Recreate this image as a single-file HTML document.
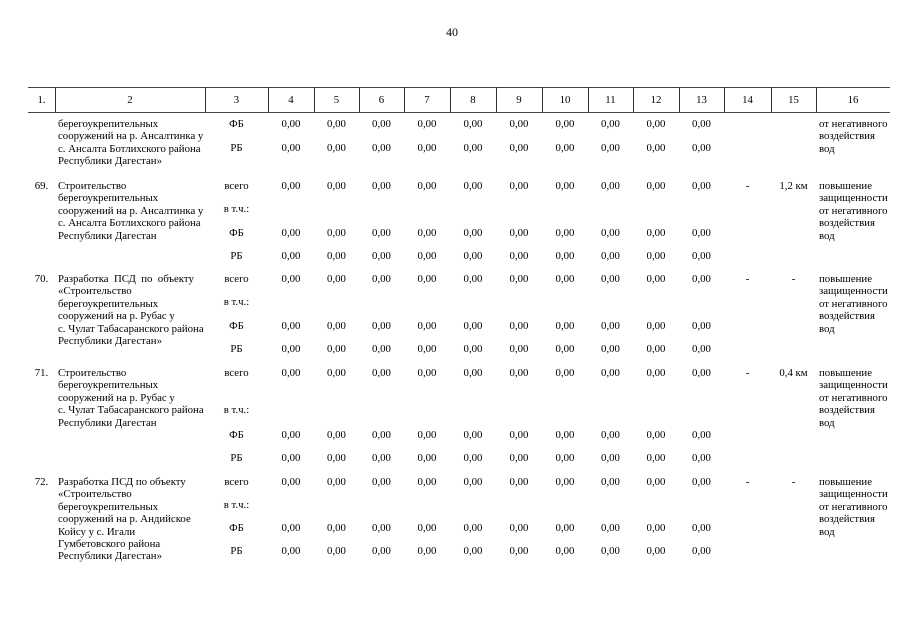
<!DOCTYPE html>
<html><head><meta charset="utf-8"><style>
body{margin:0;width:905px;height:640px;background:#fff;position:relative;overflow:hidden;font-family:"Liberation Serif","Noto Serif CJK SC",serif;font-size:10.8px;color:#000}
.r{position:absolute;left:28px;display:flex;line-height:12px}
.r span{display:block;text-align:center;flex:none}
.t{position:absolute;line-height:12.4px;white-space:nowrap}
.vl{position:absolute;top:87px;height:25px;width:1px;background:#333}
.hl{position:absolute;left:28px;width:862px;height:1px;background:#444}
</style></head><body>
<div class="t" style="left:446px;top:26px;font-size:12px">40</div>
<div class="hl" style="top:87px"></div>
<div class="hl" style="top:112px"></div>
<div class="vl" style="left:55px"></div><div class="vl" style="left:205px"></div><div class="vl" style="left:268px"></div><div class="vl" style="left:314px"></div><div class="vl" style="left:359px"></div><div class="vl" style="left:404px"></div><div class="vl" style="left:450px"></div><div class="vl" style="left:496px"></div><div class="vl" style="left:542px"></div><div class="vl" style="left:588px"></div><div class="vl" style="left:633px"></div><div class="vl" style="left:679px"></div><div class="vl" style="left:724px"></div><div class="vl" style="left:771px"></div><div class="vl" style="left:816px"></div>

<div class="r" style="top:94px"><span style="width:27px">1.</span><span style="width:150px">2</span><span style="width:63px">3</span><span style="width:46px">4</span><span style="width:45px">5</span><span style="width:45px">6</span><span style="width:46px">7</span><span style="width:46px">8</span><span style="width:46px">9</span><span style="width:46px">10</span><span style="width:45px">11</span><span style="width:46px">12</span><span style="width:45px">13</span><span style="width:47px">14</span><span style="width:45px">15</span><span style="width:74px">16</span></div>

<div class="r" style="top:118px"><span style="width:177px"></span><span style="width:63px">ФБ</span><span style="width:46px">0,00</span><span style="width:45px">0,00</span><span style="width:45px">0,00</span><span style="width:46px">0,00</span><span style="width:46px">0,00</span><span style="width:46px">0,00</span><span style="width:46px">0,00</span><span style="width:45px">0,00</span><span style="width:46px">0,00</span><span style="width:45px">0,00</span></div>
<div class="r" style="top:142px"><span style="width:177px"></span><span style="width:63px">РБ</span><span style="width:46px">0,00</span><span style="width:45px">0,00</span><span style="width:45px">0,00</span><span style="width:46px">0,00</span><span style="width:46px">0,00</span><span style="width:46px">0,00</span><span style="width:46px">0,00</span><span style="width:45px">0,00</span><span style="width:46px">0,00</span><span style="width:45px">0,00</span></div>
<div class="t" style="left:58px;top:118px">берегоукрепительных<br>сооружений на р. Ансалтинка у<br>с. Ансалта Ботлихского района<br>Республики Дагестан»</div>
<div class="t" style="left:819px;top:118px">от негативного<br>воздействия<br>вод</div>

<div class="r" style="top:180px"><span style="width:27px">69.</span><span style="width:150px"></span><span style="width:63px">всего</span><span style="width:46px">0,00</span><span style="width:45px">0,00</span><span style="width:45px">0,00</span><span style="width:46px">0,00</span><span style="width:46px">0,00</span><span style="width:46px">0,00</span><span style="width:46px">0,00</span><span style="width:45px">0,00</span><span style="width:46px">0,00</span><span style="width:45px">0,00</span><span style="width:47px">-</span><span style="width:45px">1,2 км</span></div>
<div class="r" style="top:203px"><span style="width:177px"></span><span style="width:63px">в т.ч.:</span></div>
<div class="r" style="top:227px"><span style="width:177px"></span><span style="width:63px">ФБ</span><span style="width:46px">0,00</span><span style="width:45px">0,00</span><span style="width:45px">0,00</span><span style="width:46px">0,00</span><span style="width:46px">0,00</span><span style="width:46px">0,00</span><span style="width:46px">0,00</span><span style="width:45px">0,00</span><span style="width:46px">0,00</span><span style="width:45px">0,00</span></div>
<div class="r" style="top:250px"><span style="width:177px"></span><span style="width:63px">РБ</span><span style="width:46px">0,00</span><span style="width:45px">0,00</span><span style="width:45px">0,00</span><span style="width:46px">0,00</span><span style="width:46px">0,00</span><span style="width:46px">0,00</span><span style="width:46px">0,00</span><span style="width:45px">0,00</span><span style="width:46px">0,00</span><span style="width:45px">0,00</span></div>
<div class="t" style="left:58px;top:180px">Строительство<br>берегоукрепительных<br>сооружений на р. Ансалтинка у<br>с. Ансалта Ботлихского района<br>Республики Дагестан</div>
<div class="t" style="left:819px;top:180px">повышение<br>защищенности<br>от негативного<br>воздействия<br>вод</div>

<div class="r" style="top:273px"><span style="width:27px">70.</span><span style="width:150px"></span><span style="width:63px">всего</span><span style="width:46px">0,00</span><span style="width:45px">0,00</span><span style="width:45px">0,00</span><span style="width:46px">0,00</span><span style="width:46px">0,00</span><span style="width:46px">0,00</span><span style="width:46px">0,00</span><span style="width:45px">0,00</span><span style="width:46px">0,00</span><span style="width:45px">0,00</span><span style="width:47px">-</span><span style="width:45px">-</span></div>
<div class="r" style="top:296px"><span style="width:177px"></span><span style="width:63px">в т.ч.:</span></div>
<div class="r" style="top:320px"><span style="width:177px"></span><span style="width:63px">ФБ</span><span style="width:46px">0,00</span><span style="width:45px">0,00</span><span style="width:45px">0,00</span><span style="width:46px">0,00</span><span style="width:46px">0,00</span><span style="width:46px">0,00</span><span style="width:46px">0,00</span><span style="width:45px">0,00</span><span style="width:46px">0,00</span><span style="width:45px">0,00</span></div>
<div class="r" style="top:343px"><span style="width:177px"></span><span style="width:63px">РБ</span><span style="width:46px">0,00</span><span style="width:45px">0,00</span><span style="width:45px">0,00</span><span style="width:46px">0,00</span><span style="width:46px">0,00</span><span style="width:46px">0,00</span><span style="width:46px">0,00</span><span style="width:45px">0,00</span><span style="width:46px">0,00</span><span style="width:45px">0,00</span></div>
<div class="t" style="left:58px;top:273px">Разработка&nbsp; ПСД&nbsp; по&nbsp; объекту<br>«Строительство<br>берегоукрепительных<br>сооружений на р. Рубас у<br>с. Чулат Табасаранского района<br>Республики Дагестан»</div>
<div class="t" style="left:819px;top:273px">повышение<br>защищенности<br>от негативного<br>воздействия<br>вод</div>

<div class="r" style="top:367px"><span style="width:27px">71.</span><span style="width:150px"></span><span style="width:63px">всего</span><span style="width:46px">0,00</span><span style="width:45px">0,00</span><span style="width:45px">0,00</span><span style="width:46px">0,00</span><span style="width:46px">0,00</span><span style="width:46px">0,00</span><span style="width:46px">0,00</span><span style="width:45px">0,00</span><span style="width:46px">0,00</span><span style="width:45px">0,00</span><span style="width:47px">-</span><span style="width:45px">0,4 км</span></div>
<div class="r" style="top:404px"><span style="width:177px"></span><span style="width:63px">в т.ч.:</span></div>
<div class="r" style="top:429px"><span style="width:177px"></span><span style="width:63px">ФБ</span><span style="width:46px">0,00</span><span style="width:45px">0,00</span><span style="width:45px">0,00</span><span style="width:46px">0,00</span><span style="width:46px">0,00</span><span style="width:46px">0,00</span><span style="width:46px">0,00</span><span style="width:45px">0,00</span><span style="width:46px">0,00</span><span style="width:45px">0,00</span></div>
<div class="r" style="top:452px"><span style="width:177px"></span><span style="width:63px">РБ</span><span style="width:46px">0,00</span><span style="width:45px">0,00</span><span style="width:45px">0,00</span><span style="width:46px">0,00</span><span style="width:46px">0,00</span><span style="width:46px">0,00</span><span style="width:46px">0,00</span><span style="width:45px">0,00</span><span style="width:46px">0,00</span><span style="width:45px">0,00</span></div>
<div class="t" style="left:58px;top:367px">Строительство<br>берегоукрепительных<br>сооружений на р. Рубас у<br>с. Чулат Табасаранского района<br>Республики Дагестан</div>
<div class="t" style="left:819px;top:367px">повышение<br>защищенности<br>от негативного<br>воздействия<br>вод</div>

<div class="r" style="top:476px"><span style="width:27px">72.</span><span style="width:150px"></span><span style="width:63px">всего</span><span style="width:46px">0,00</span><span style="width:45px">0,00</span><span style="width:45px">0,00</span><span style="width:46px">0,00</span><span style="width:46px">0,00</span><span style="width:46px">0,00</span><span style="width:46px">0,00</span><span style="width:45px">0,00</span><span style="width:46px">0,00</span><span style="width:45px">0,00</span><span style="width:47px">-</span><span style="width:45px">-</span></div>
<div class="r" style="top:499px"><span style="width:177px"></span><span style="width:63px">в т.ч.:</span></div>
<div class="r" style="top:522px"><span style="width:177px"></span><span style="width:63px">ФБ</span><span style="width:46px">0,00</span><span style="width:45px">0,00</span><span style="width:45px">0,00</span><span style="width:46px">0,00</span><span style="width:46px">0,00</span><span style="width:46px">0,00</span><span style="width:46px">0,00</span><span style="width:45px">0,00</span><span style="width:46px">0,00</span><span style="width:45px">0,00</span></div>
<div class="r" style="top:545px"><span style="width:177px"></span><span style="width:63px">РБ</span><span style="width:46px">0,00</span><span style="width:45px">0,00</span><span style="width:45px">0,00</span><span style="width:46px">0,00</span><span style="width:46px">0,00</span><span style="width:46px">0,00</span><span style="width:46px">0,00</span><span style="width:45px">0,00</span><span style="width:46px">0,00</span><span style="width:45px">0,00</span></div>
<div class="t" style="left:58px;top:476px">Разработка ПСД по объекту<br>«Строительство<br>берегоукрепительных<br>сооружений на р. Андийское<br>Койсу у с. Игали<br>Гумбетовского района<br>Республики Дагестан»</div>
<div class="t" style="left:819px;top:476px">повышение<br>защищенности<br>от негативного<br>воздействия<br>вод</div>
</body></html>
